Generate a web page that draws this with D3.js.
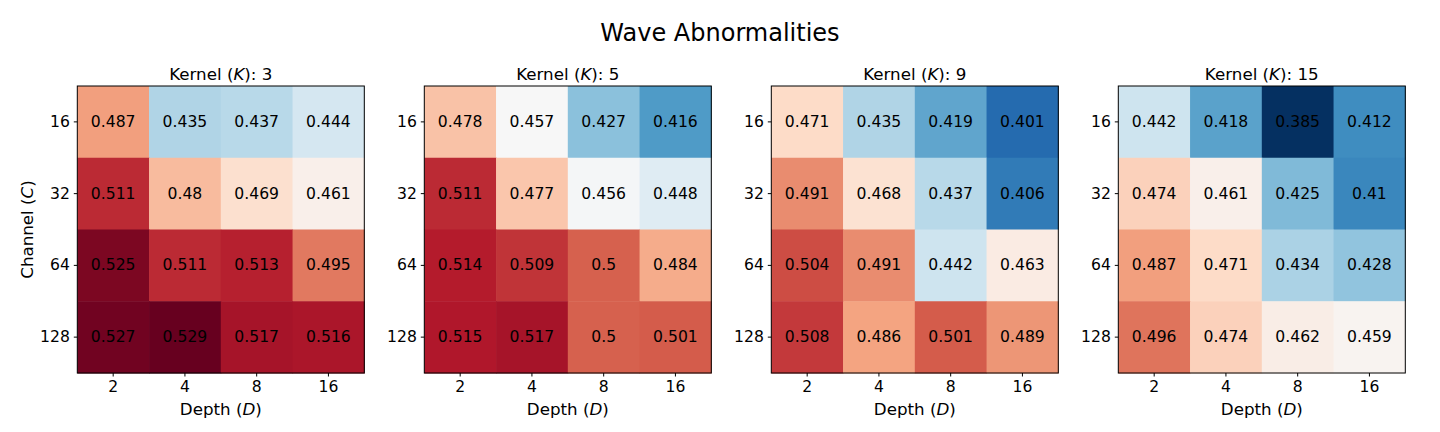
<!DOCTYPE html>
<html>
<head>
<meta charset="utf-8">
<script src="https://cdn.jsdelivr.net/npm/d3@7"></script>
<style>
  body { margin: 0; background: #fff; }
  svg { display: block; font-family: "DejaVu Sans", sans-serif; }
</style>
</head>
<body>
<script>
const WIDTH = 1440;
const HEIGHT = 432;
const CELL_SIZE = 287;

// panel categories
const KERNELS = [3, 5, 9, 15];
const DEPTHS = [2, 4, 8, 16];
const CHANNELS = [16, 32, 64, 128];

// values per kernel, rows = channel, cols = depth
const K3 = [[0.487, 0.435, 0.437, 0.444],
            [0.511, 0.48, 0.469, 0.461],
            [0.525, 0.511, 0.513, 0.495],
            [0.527, 0.529, 0.517, 0.516]];
const K5 = [[0.478, 0.457, 0.427, 0.416],
            [0.511, 0.477, 0.456, 0.448],
            [0.514, 0.509, 0.5, 0.484],
            [0.515, 0.517, 0.5, 0.501]];
const K9 = [[0.471, 0.435, 0.419, 0.401],
            [0.491, 0.468, 0.437, 0.406],
            [0.504, 0.491, 0.442, 0.463],
            [0.508, 0.486, 0.501, 0.489]];
const K15 = [[0.442, 0.418, 0.385, 0.412],
             [0.474, 0.461, 0.425, 0.41],
             [0.487, 0.471, 0.434, 0.428],
             [0.496, 0.474, 0.462, 0.459]];
const PANELS = [K3, K5, K9, K15];

// RdBu_r stops (colorbrewer, reversed)
const RDBU_R = ["#053061", "#2166ac", "#4393c3", "#92c5de", "#d1e5f0", "#f7f7f7",
                "#fddbc7", "#f4a582", "#d6604d", "#b2182b", "#67001f"];

const svg = d3.select("body")
              .append("svg")
              .attr("width", WIDTH)
              .attr("height", HEIGHT);

// one shared colour range over all four panels
const allValues = PANELS.flat(2);
const [vmin, vmax] = d3.extent(allValues);

const colorScale = d3.scaleLinear()
                     .domain(RDBU_R.map((d, i) => vmin + (vmax - vmin) * i / (RDBU_R.length - 1)))
                     .range(RDBU_R)
                     .interpolate(d3.interpolateRgb)
                     .clamp(true);

// panel positions
const panelX = d3.scaleBand()
                 .domain(KERNELS)
                 .range([77.3, 77.3 + 347 * 4]);
const TOP = 86;

svg.append("text")
   .attr("x", WIDTH / 2)
   .attr("y", 40.5)
   .attr("text-anchor", "middle")
   .attr("font-size", 24)
   .text("Wave Abnormalities");

// text with an italic symbol in the middle, like "Depth (D)"
const addLabel = (sel, before, italic, after) => {
  sel.append("tspan").text(before);
  sel.append("tspan").attr("font-style", "italic").text(italic);
  sel.append("tspan").text(after);
};

KERNELS.forEach((k, p) => {
  const data = PANELS[p];
  const g = svg.append("g")
               .attr("transform", "translate(" + panelX(k) + "," + TOP + ")");

  const xScale = d3.scaleBand().domain(DEPTHS).range([0, CELL_SIZE]);
  const yScale = d3.scaleBand().domain(CHANNELS).range([0, CELL_SIZE]);

  const cells = [];
  data.forEach((row, r) => row.forEach((v, c) => cells.push({c: CHANNELS[r], d: DEPTHS[c], v: v})));

  g.selectAll("rect.cell")
   .data(cells)
   .enter()
   .append("rect")
   .attr("class", "cell")
   .attr("x", d => xScale(d.d))
   .attr("y", d => yScale(d.c))
   .attr("width", xScale.bandwidth() + 0.5)
   .attr("height", yScale.bandwidth() + 0.5)
   .attr("fill", d => colorScale(d.v));

  g.selectAll("text.val")
   .data(cells)
   .enter()
   .append("text")
   .attr("class", "val")
   .attr("x", d => xScale(d.d) + xScale.bandwidth() / 2)
   .attr("y", d => yScale(d.c) + yScale.bandwidth() / 2)
   .attr("text-anchor", "middle")
   .attr("dominant-baseline", "central")
   .attr("font-size", 15.6)
   .attr("fill", "#000")
   .text(d => String(d.v));

  // frame
  g.append("rect")
   .attr("width", CELL_SIZE)
   .attr("height", CELL_SIZE)
   .attr("fill", "none")
   .attr("stroke", "#000")
   .attr("stroke-width", 1);

  const xAxis = d3.axisBottom(xScale).tickSize(3.5).tickPadding(4).tickSizeOuter(0);
  const yAxis = d3.axisLeft(yScale).tickSize(3.5).tickPadding(4).tickSizeOuter(0);

  const xg = g.append("g")
              .attr("transform", "translate(0," + CELL_SIZE + ")")
              .call(xAxis);
  const yg = g.append("g").call(yAxis);
  [xg, yg].forEach(a => {
    a.attr("font-size", 15.6).attr("font-family", "DejaVu Sans");
    a.select(".domain").remove();
    a.selectAll("text").attr("fill", "#000");
    a.selectAll("line").attr("stroke", "#000");
  });

  // subplot title
  const t = g.append("text")
             .attr("x", CELL_SIZE / 2)
             .attr("y", -6.5)
             .attr("text-anchor", "middle")
             .attr("font-size", 16.7);
  addLabel(t, "Kernel (", "K", "): " + k);

  const xl = g.append("text")
              .attr("x", CELL_SIZE / 2)
              .attr("y", CELL_SIZE + 42)
              .attr("text-anchor", "middle")
              .attr("font-size", 16.7);
  addLabel(xl, "Depth (", "D", ")");

  if (p === 0) {
    const yl = g.append("text")
                .attr("transform", "translate(-44," + CELL_SIZE / 2 + ") rotate(-90)")
                .attr("text-anchor", "middle")
                .attr("font-size", 16.7);
    addLabel(yl, "Channel (", "C", ")");
  }
});
</script>
</body>
</html>
